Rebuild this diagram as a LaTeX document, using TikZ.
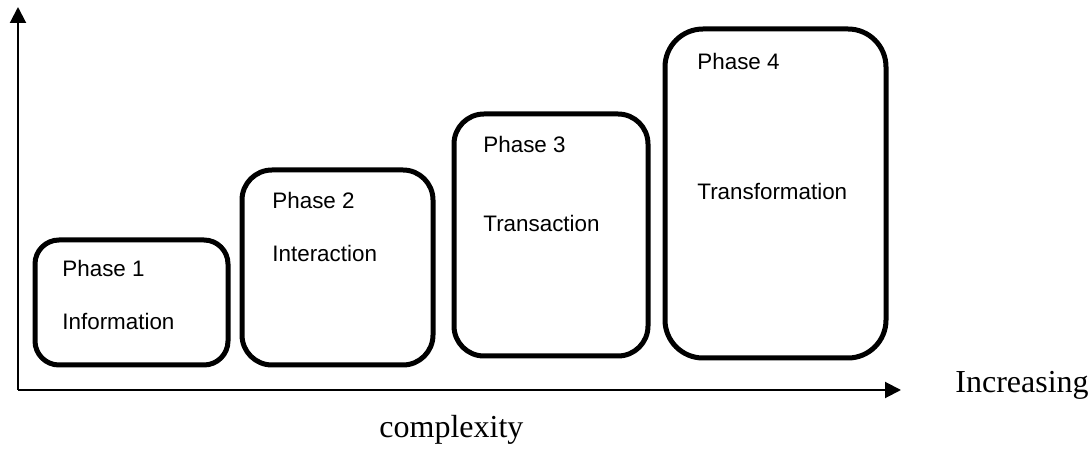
\documentclass[tikz,border=0pt]{standalone}
\usepackage{fontspec}
\setmainfont{Liberation Serif}
\newfontfamily\boxfont{Liberation Sans}
\usetikzlibrary{arrows.meta}
\begin{document}
\begin{tikzpicture}[x=0.5pt,y=-0.5pt,
  phasebox/.style={draw=black, line width=2.5pt, rounded corners=#1, inner sep=0pt},
  boxtext/.style={anchor=base west, inner sep=0pt, font=\boxfont\fontsize{11.2pt}{13pt}\selectfont},
  seriftext/.style={anchor=base west, inner sep=0pt, font=\fontsize{16pt}{19pt}\selectfont},
  axis/.style={line width=1pt, -{Triangle[length=8pt,width=8pt]}}]
\useasboundingbox (0,0) rectangle (1092,453);
\coordinate (o) at (18,390);
\coordinate (ytop) at (18,7);
\coordinate (xend) at (901,390);
\draw[axis] (o) -- (ytop);
\draw[axis] (o) -- (xend);
\node[phasebox=12pt, minimum width=96.5pt, minimum height=62.5pt] (b1) at (131.5,302.5) {};
\node[phasebox=15pt, minimum width=95.5pt, minimum height=97.5pt] (b2) at (337.5,267.5) {};
\node[phasebox=15pt, minimum width=97pt, minimum height=121pt] (b3) at (551,235) {};
\node[phasebox=19pt, minimum width=110.5pt, minimum height=164.5pt] (b4) at (775.5,193.5) {};
\node[boxtext] (p1) at (62,277) {Phase 1};
\node[boxtext] (t1) at (62,330) {Information};
\node[boxtext] (p2) at (272,209) {Phase 2};
\node[boxtext] (t2) at (272,262) {Interaction};
\node[boxtext] (p3) at (483,153) {Phase 3};
\node[boxtext] (t3) at (483,232) {Transaction};
\node[boxtext] (p4) at (697,70) {Phase 4};
\node[boxtext] (t4) at (697,200) {Transformation};
\node[seriftext] (inc) at (955,393) {Increasing};
\node[seriftext] (cpx) at (379,438) {complexity};
\end{tikzpicture}
\end{document}
